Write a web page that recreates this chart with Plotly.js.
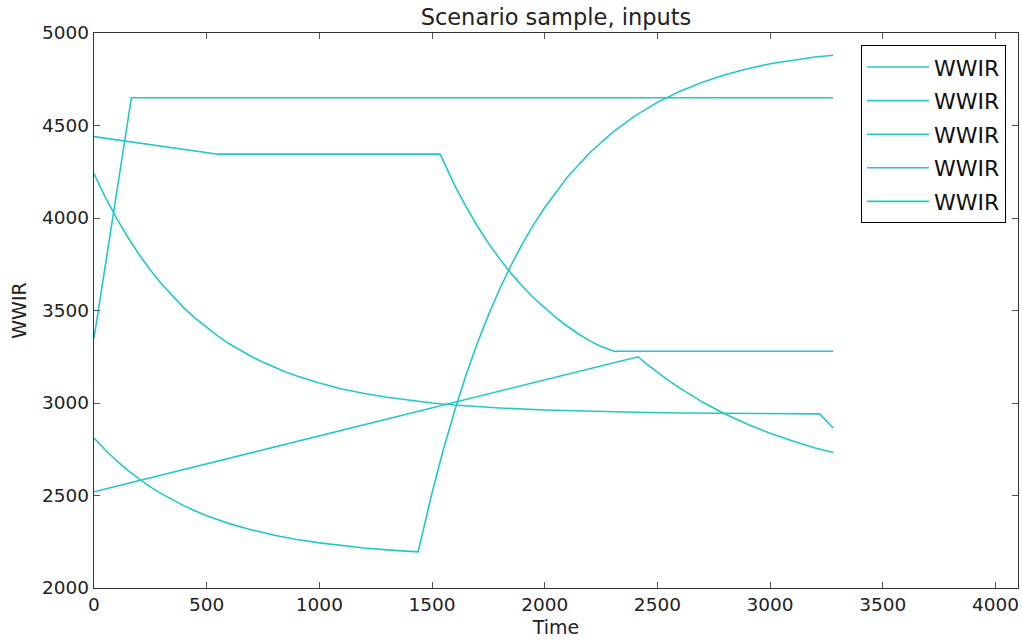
<!DOCTYPE html>
<html>
<head>
<meta charset="utf-8">
<script src="https://cdn.plot.ly/plotly-3.0.1.min.js"></script>
<style>html,body{margin:0;padding:0;background:#fff;}#chart{width:1022px;height:644px;}</style>
</head>
<body>
<div id="chart"></div>
<script>
// Series 1: fast ramp then plateau
const t1 = [0, 166, 3280];
const y1 = [3350, 4650, 4650];

// Series 2: slow decline, plateau, decay, plateau
const t2 = [0, 550, 1536, 1600, 1650, 1700, 1750, 1800, 1850, 1900, 1950, 2000, 2050, 2100, 2150, 2200, 2250, 2307, 3280];
const y2 = [4440, 4345, 4345, 4178, 4063, 3958, 3864, 3779, 3702, 3632, 3569, 3513, 3461, 3415, 3373, 3336, 3305, 3280, 3280];

// Series 3: decay from high value, small drop at the end
const t3 = [0, 50, 100, 150, 200, 250, 300, 350, 400, 450, 500, 550, 600, 650, 700, 750, 800, 850, 900, 950, 1000, 1100, 1200, 1300, 1400, 1500, 1600, 1800, 2000, 2200, 2400, 2600, 2800, 3000, 3220, 3280];
const y3 = [4240, 4113, 3999, 3896, 3803, 3719, 3643, 3575, 3513, 3457, 3407, 3361, 3320, 3283, 3250, 3220, 3192, 3168, 3146, 3126, 3108, 3076, 3051, 3031, 3014, 3000, 2989, 2973, 2962, 2954, 2950, 2946, 2944, 2943, 2941, 2865];

// Series 4: decay then steep rise
const t4 = [0, 50, 100, 150, 200, 250, 300, 350, 400, 450, 500, 600, 700, 800, 900, 1000, 1100, 1200, 1300, 1438, 1500, 1550, 1600, 1650, 1700, 1750, 1800, 1850, 1900, 1950, 2000, 2100, 2200, 2300, 2400, 2500, 2600, 2700, 2800, 2900, 3000, 3100, 3200, 3280];
const y4 = [2810, 2746, 2688, 2636, 2590, 2547, 2509, 2475, 2444, 2416, 2391, 2348, 2314, 2285, 2262, 2244, 2228, 2216, 2206, 2195, 2515, 2747, 2957, 3148, 3320, 3475, 3616, 3743, 3859, 3963, 4057, 4220, 4353, 4462, 4552, 4625, 4685, 4734, 4774, 4807, 4834, 4854, 4870, 4880];

// Series 5: linear rise then decay
const t5 = [0, 2414, 2450, 2500, 2550, 2600, 2700, 2800, 2900, 3000, 3100, 3200, 3280];
const y5 = [2520, 3250, 3213, 3166, 3121, 3080, 3005, 2941, 2885, 2836, 2794, 2757, 2732];

const seriesName = 'WWIR';
const lineColor = '#22c8c8';

const xs = [t1, t2, t3, t4, t5];
const ys = [y1, y2, y3, y4, y5];

const traces = xs.map((x, i) => ({
  x: x, y: ys[i], type: 'scatter', mode: 'lines', name: seriesName,
  legendgroup: 'g' + i,
  line: {color: lineColor, width: 1.6}
}));

const axisCommon = {
  showline: true, linecolor: '#333', linewidth: 1.2, mirror: 'ticks',
  ticks: 'inside', ticklen: 6, tickcolor: '#555', tickwidth: 1,
  showgrid: false, zeroline: false,
  tickfont: {family: 'DejaVu Sans', size: 18.5, color: '#222'}
};

const layout = {
  width: 1022, height: 644,
  margin: {l: 94, r: 4, t: 33, b: 56},
  paper_bgcolor: '#fff', plot_bgcolor: '#fff',
  font: {family: 'DejaVu Sans', color: '#222'},
  title: {text: 'Scenario sample, inputs', font: {family: 'DejaVu Sans', size: 22.5, color: '#222'},
          x: 0.544, xanchor: 'center', y: 0.974, yanchor: 'middle', yref: 'container'},
  xaxis: Object.assign({}, axisCommon, {
    range: [0, 4100], tickvals: [0, 500, 1000, 1500, 2000, 2500, 3000, 3500, 4000],
    title: {text: 'Time', font: {family: 'DejaVu Sans', size: 19, color: '#222'}, standoff: 6}
  }),
  yaxis: Object.assign({}, axisCommon, {
    range: [2000, 5000], tickvals: [2000, 2500, 3000, 3500, 4000, 4500, 5000],
    title: {text: 'WWIR', font: {family: 'DejaVu Sans', size: 19, color: '#222'}, standoff: 10}
  }),
  legend: {
    x: 0.987, xanchor: 'right', y: 0.978, yanchor: 'top',
    bgcolor: '#fff', bordercolor: '#000', borderwidth: 1,
    font: {family: 'DejaVu Sans', size: 22, color: '#111'},
    tracegroupgap: 2, itemwidth: 62, traceorder: 'grouped'
  },
  showlegend: true
};

Plotly.newPlot('chart', traces, layout, {displayModeBar: false, staticPlot: true});
</script>
</body>
</html>
